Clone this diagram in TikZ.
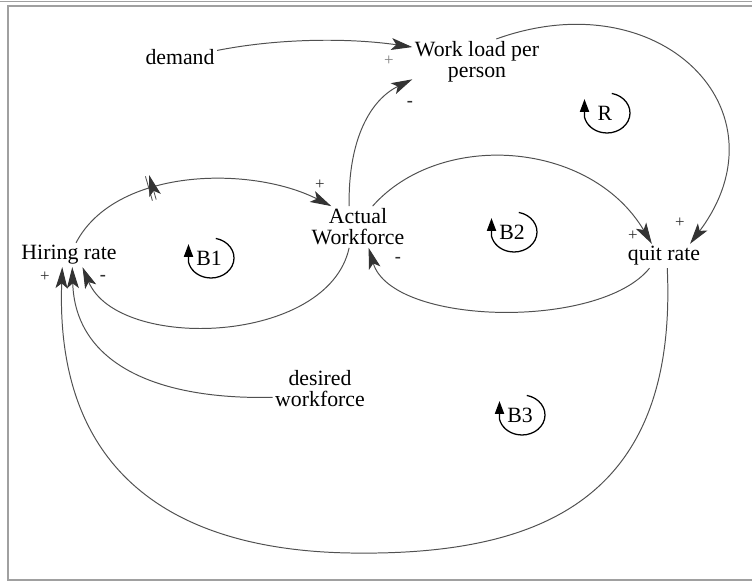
\documentclass[tikz,border=0pt]{standalone}
\usepackage{fontspec}
\setmainfont{Liberation Serif}
\usetikzlibrary{arrows.meta, decorations.markings}
\definecolor{clink}{HTML}{505050}
\definecolor{chead}{HTML}{333333}
\definecolor{cframe}{HTML}{A0A0A0}
\definecolor{csign}{HTML}{303030}
\tikzset{
  every picture/.style={line width=0.7pt},
  var/.style={font=\rmfamily\fontsize{15.5}{15}\selectfont, align=center, inner sep=1.5pt},
  link/.style={draw=clink, line width=0.7pt, -{Stealth[length=15pt, width=8.5pt, inset=3.5pt, color=chead]}},
  sign/.style={font=\rmfamily\fontsize{12}{12}\selectfont, text=csign, inner sep=0pt},
  minus/.style={sign, font=\rmfamily\fontsize{13}{13}\selectfont\bfseries},
  looplbl/.style={font=\rmfamily\fontsize{15.5}{15}\selectfont, inner sep=0pt},
  loopmark/.style={draw=black, line width=0.9pt, -{Triangle[length=9pt, width=6.5pt]}},
  delaymark/.style={postaction={decorate}, decoration={markings, mark=at position #1 with
    {\draw[clink, line width=0.6pt] (-1.4pt,-9pt) -- (-1.4pt,9pt) (1.4pt,-9pt) -- (1.4pt,9pt);}}},
}

\begin{document}
\begin{tikzpicture}[x=0.025cm, y=0.025cm]
  \useasboundingbox (0,0) rectangle (752,-582);
  % frame
  \draw[cframe, line width=1.2pt] (752,-6) -- (8,-6) -- (8,-580) -- (752,-580);
  \draw[cframe, line width=1.2pt] (0,-1.5) -- (752,-1.5);

  % variables
  \node[var] (demand) at (180,-57) {demand};
  \node[var] (wl) at (477,-62) {Work load per\\person};
  \node[var] (aw) at (358,-227) {Actual\\Workforce};
  \node[var] (hr) at (69,-255) {Hiring rate};
  \node[var] (qr) at (664,-256) {quit rate};
  \node[var] (dw) at (320,-389) {desired\\workforce};
  \coordinate (b3low) at (350,-553);

  % links
  \draw[link] (demand.10) .. controls (280,-38) and (350,-38) .. (wl.167);
  \draw[link] (aw.113) .. controls (348,-140) and (370,-100) .. (wl.195);
  \draw[link] (wl.50) .. controls (660,20) and (790,-110) .. (qr.25);
  \draw[link, delaymark=0.34] (hr.60) .. controls (115,-168) and (250,-165) .. (aw.142);
  \draw[link] (aw.247) .. controls (328,-345) and (118,-352) .. (hr.318);
  \draw[link] (aw.55) .. controls (440,-130) and (590,-140) .. (qr.135);
  \draw[link] (qr.220) .. controls (600,-330) and (392,-326) .. (aw.-63);
  \draw[link] (qr.-75) .. controls (678,-500) and (540,-556) .. (b3low)
    .. controls (170,-550) and (55,-470) .. (hr.241);
  \draw[link] (dw.190) .. controls (150,-400) and (75,-360) .. (hr.285);

  % polarities
  \node[sign, text=gray] (s1) at (389,-61) {+};
  \node[minus] (s2) at (410,-104) {-};
  \node[sign] (s3) at (320,-185) {+};
  \node[sign] (s4) at (45,-277) {+};
  \node[minus] (s5) at (103,-278) {-};
  \node[sign] (s6) at (633,-236) {+};
  \node[sign] (s7) at (680,-223) {+};
  \node[minus] (s8) at (398,-260) {-};

  % loop markers
  \node[looplbl] (lR) at (605,-113) {R};
  \node[looplbl] (lB1) at (209,-258) {B1};
  \node[looplbl] (lB2) at (512,-232) {B2};
  \node[looplbl] (lB3) at (520,-415) {B3};
  \draw[loopmark] (lR) ++(2,0) ++(78:23 and 20) arc[start angle=78, end angle=-168, x radius=23, y radius=20] -- ++(0,18);
  \draw[loopmark] (lB1) ++(2,0) ++(78:23 and 20) arc[start angle=78, end angle=-168, x radius=23, y radius=20] -- ++(0,18);
  \draw[loopmark] (lB2) ++(2,0) ++(78:23 and 20) arc[start angle=78, end angle=-168, x radius=23, y radius=20] -- ++(0,18);
  \draw[loopmark] (lB3) ++(2,0) ++(78:23 and 20) arc[start angle=78, end angle=-168, x radius=23, y radius=20] -- ++(0,18);
\end{tikzpicture}
\end{document}
